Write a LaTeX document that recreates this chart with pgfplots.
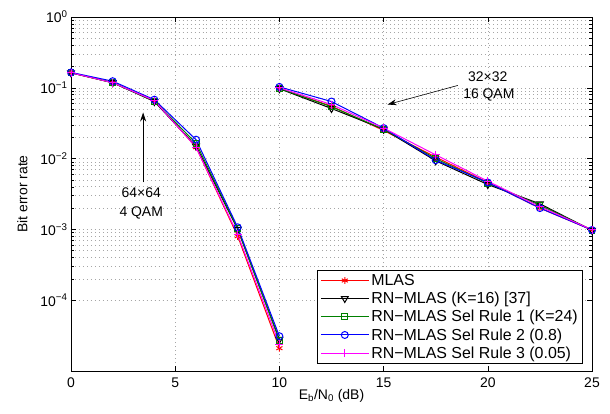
\documentclass[border=0pt]{standalone}
\usepackage{fontspec}
\setmainfont{Liberation Sans}
\usepackage{pgfplots}
\pgfplotsset{compat=1.18}
\usetikzlibrary{arrows.meta}
\definecolor{mgreen}{rgb}{0,0.5,0}
\definecolor{mred}{rgb}{1,0,0}
\definecolor{mblue}{rgb}{0,0,1}
\definecolor{mmag}{rgb}{1,0,1}
\begin{document}
\begin{tikzpicture}
\begin{axis}[
  name=main,
  scale only axis,
  width=521bp, height=354bp,
  xmin=0, xmax=25, ymode=log, ymin=1e-5, ymax=1,
  xtick={0,5,10,15,20,25},
  ytick={1e-4,1e-3,1e-2,1e-1,1},
  yticklabels={10\textsuperscript{−4},10\textsuperscript{−3},10\textsuperscript{−2},10\textsuperscript{−1},10\textsuperscript{0}},
  /pgf/number format/assume math mode=true,
  ticklabel style={font=\fontsize{14}{17}\selectfont},
  xticklabel style={yshift=-3bp},
  label style={font=\fontsize{14}{17}\selectfont},
  tick align=inside,
  major tick length=5bp, minor tick length=3bp,
  tick style={black, line width=0.5pt},
  axis line style={line width=0.8pt},
  grid=both,
  major grid style={gray!70, line width=0.6pt, dash pattern=on 1pt off 3pt},
  minor grid style={gray!70, line width=0.6pt, dash pattern=on 1pt off 3pt},
  minor x tick num=0,
  xlabel={E\textsubscript{b}/N\textsubscript{0} (dB)},
  ylabel={Bit error rate},
  xlabel style={yshift=5bp},
  ylabel style={yshift=6bp},
  unbounded coords=jump,
  every axis plot/.append style={line width=1pt},
  legend cell align=left,
  legend style={at={(rel axis cs:1,0)}, anchor=south east, xshift=-9bp, yshift=7bp,
    draw=black, line width=0.6pt, font=\fontsize{16}{18}\selectfont, inner xsep=3pt, inner ysep=2pt,
    row sep=1.2pt},
  legend image code/.code={
    \draw[#1] (0bp,0bp) -- (48bp,0bp);
    \path[#1] plot coordinates {(24bp,0bp)};
  },
]
\addlegendimage{mred, line width=1pt, mark=asterisk, mark size=3.5pt}
\addlegendentry{MLAS}
\addlegendimage{black, line width=1pt, mark=triangle, mark size=4pt, mark options={rotate=180}}
\addlegendentry{RN−MLAS (K=16) [37]}
\addlegendimage{mgreen, line width=1pt, mark=square, mark size=3pt}
\addlegendentry{RN−MLAS Sel Rule 1 (K=24)}
\addlegendimage{mblue, line width=1pt, mark=o, mark size=3.5pt}
\addlegendentry{RN−MLAS Sel Rule 2 (0.8)}
\addlegendimage{mmag, line width=1pt, mark=+, mark size=4pt}
\addlegendentry{RN−MLAS Sel Rule 3 (0.05)}
\addplot[forget plot, mred, mark=asterisk, mark size=3.5pt, mark options={solid}] coordinates {
(0,0.163) (2,0.118) (4,0.066) (6,0.0145) (8,8.0e-4) (10,2.1e-5)
(10,nan)
(10,0.098) (12.5,0.055) (15,0.025) (17.5,0.0105) (20,0.0046) (22.5,0.0020) (25,0.00098)};
\addplot[forget plot, black, mark=triangle, mark size=4pt, mark options={solid, rotate=180}] coordinates {
(0,0.163) (2,0.118) (4,0.064) (6,0.015) (8,1.0e-3) (10,2.8e-5)
(10,nan)
(10,0.097) (12.5,0.051) (15,0.026) (17.5,0.0093) (20,0.0043) (22.5,0.0023) (25,0.00097)};
\addplot[forget plot, mgreen, mark=square, mark size=3pt, mark options={solid}] coordinates {
(0,0.163) (2,0.118) (4,0.065) (6,0.0165) (8,1.02e-3) (10,2.7e-5)
(10,nan)
(10,0.098) (12.5,0.054) (15,0.026) (17.5,0.0100) (20,0.0045) (22.5,0.0022) (25,0.00098)};
\addplot[forget plot, mblue, mark=o, mark size=3.5pt, mark options={solid}] coordinates {
(0,0.165) (2,0.124) (4,0.068) (6,0.0185) (8,1.07e-3) (10,3.1e-5)
(10,nan)
(10,0.103) (12.5,0.064) (15,0.027) (17.5,0.0095) (20,0.0046) (22.5,0.0020) (25,0.00098)};
\addplot[forget plot, mmag, mark=+, mark size=4pt, mark options={solid}] coordinates {
(0,0.163) (2,0.118) (4,0.066) (6,0.0145) (8,8.5e-4) (10,2.4e-5)
(10,nan)
(10,0.100) (12.5,0.058) (15,0.027) (17.5,0.0113) (20,0.0048) (22.5,0.0021) (25,0.00099)};
\draw[-{Stealth[length=9bp,width=6bp]}, line width=0.6pt] (axis cs:3.46,0.0046) -- (axis cs:3.46,0.0448);
\node[font=\fontsize{14}{17}\selectfont] at (axis cs:3.37,0.0033) {64×64};
\node[font=\fontsize{14}{17}\selectfont] at (axis cs:3.37,0.00173) {4 QAM};
\draw[-{Stealth[length=9bp,width=6bp]}, line width=0.6pt] (axis cs:18.56,0.108) -- (axis cs:15.19,0.058);
\node[font=\fontsize{14}{17}\selectfont] at (axis cs:20.0,0.144) {32×32};
\node[font=\fontsize{14}{17}\selectfont] at (axis cs:20.05,0.080) {16 QAM};
\coordinate (o) at (rel axis cs:0,0);
\end{axis}
\pgfresetboundingbox
\path[use as bounding box] (o) ++(-71bp,-43bp) rectangle ++(610bp,414bp);
\end{tikzpicture}
\end{document}
